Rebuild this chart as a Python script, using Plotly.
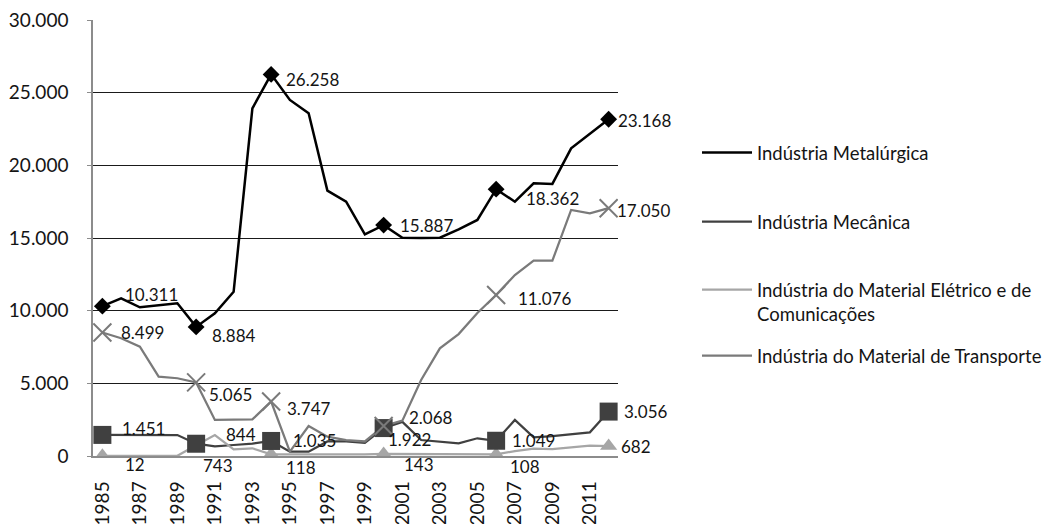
import plotly.graph_objects as go

# ---------------- data ----------------
years = list(range(1985, 2013))

metalurgica = [10311, 10850, 10230, 10370, 10505, 8884, 9820, 11300, 23920, 26258,
               24500, 23580, 18260, 17500, 15250, 15887, 15020, 15000, 15020, 15600,
               16240, 18362, 17500, 18760, 18720, 21170, 22180, 23168]

mecanica = [1451, 1445, 1440, 1440, 1440, 844, 665, 757, 850, 1035,
            300, 300, 1000, 1000, 900, 1922, 2350, 1100, 1000, 870,
            1220, 1049, 2480, 1290, 1375, 1490, 1630, 3056]

eletrico = [12, 12, 12, 12, 12, 743, 1445, 460, 530, 118,
            110, 110, 110, 115, 120, 143, 130, 120, 115, 110,
            110, 108, 340, 515, 480, 585, 720, 682]

transporte = [8499, 8100, 7520, 5460, 5350, 5065, 2480, 2490, 2520, 3747,
              300, 2060, 1330, 1100, 1000, 2068, 2430, 5230, 7410, 8390,
              9840, 11076, 12450, 13440, 13440, 16930, 16700, 17050]

marker_years = [1985, 1990, 1994, 2000, 2006, 2012]

series_names = [
    "Indústria Metalúrgica",
    "Indústria Mecânica",
    "Indústria do Material Elétrico e de<br>Comunicações",
    "Indústria do Material de Transporte",
]

tick_years = list(range(1985, 2012, 2))
y_ticks = [0, 5000, 10000, 15000, 20000, 25000, 30000]

# ---------------- styles ----------------
FONT = "Lato"
TXT = "#141414"
colors = ["#000000", "#404040", "#a6a6a6", "#7a7a7a"]
widths = [2.5, 2.25, 2.25, 2.25]
symbols = ["diamond", "square", "triangle-up", "x-thin"]
msizes = [13, 18, 15, 18]

# label offsets in pixels (dx right, dy down) for each marked point
label_offsets = [
    [(21, -12), (14, 9), (13, 5), (14, 0), (28, 9), (7, 1)],     # metalúrgica
    [(18, -6), (28, -9), (20, 0), (2, 11), (14, 0), (13, 0)],    # mecânica
    [(21, 9), (5, 20), (13, 13), (18, 11), (12, 12), (10, 0)],   # elétrico
    [(17, 0), (11, 12), (14, 7), (23, -8), (20, 3), (6, 2)],     # transporte
]

all_series = [metalurgica, mecanica, eletrico, transporte]


def fmt(v):
    return f"{v:,}".replace(",", ".")


fig = go.Figure()

legend_ids = ["legend", "legend2", "legend3", "legend4"]

# lines (in legend)
for i, (name, vals) in enumerate(zip(series_names, all_series)):
    fig.add_trace(go.Scatter(
        x=years, y=vals, mode="lines", name=name,
        line=dict(color=colors[i], width=widths[i]),
        legend=legend_ids[i], hoverinfo="skip",
    ))

# markers: draw order elétrico, mecânica, transporte, metalúrgica
for i in [2, 1, 3, 0]:
    vals = all_series[i]
    my = [vals[years.index(yr)] for yr in marker_years]
    if symbols[i] == "x-thin":
        marker = dict(symbol="x-thin", size=msizes[i],
                      line=dict(color=colors[i], width=2), color=colors[i])
    else:
        marker = dict(symbol=symbols[i], size=msizes[i], color=colors[i],
                      line=dict(width=0))
    fig.add_trace(go.Scatter(
        x=marker_years, y=my, mode="markers", marker=marker,
        showlegend=False, hoverinfo="skip",
    ))

# data labels
annotations = []
for i, vals in enumerate(all_series):
    for j, yr in enumerate(marker_years):
        v = vals[years.index(yr)]
        dx, dy = label_offsets[i][j]
        annotations.append(dict(
            x=yr, y=v, xref="x", yref="y", text=fmt(v), showarrow=False,
            xanchor="left", yanchor="middle", xshift=dx, yshift=-dy,
            font=dict(family=FONT, size=17, color=TXT),
        ))

L, R, T, B = 93, 441, 20, 68
W, H = 1059, 524
pw = W - L - R
ph = H - T - B


def px_x(x):
    return (x - L) / pw


def px_y(y):
    return 1 - (y - T) / ph


leg_common = dict(
    bgcolor="rgba(0,0,0,0)", borderwidth=0, itemwidth=50,
    font=dict(family=FONT, size=18.5, color=TXT), xanchor="left",
    yanchor="middle", valign="top", itemclick=False, itemdoubleclick=False,
)
leg_x = px_x(697)

fig.update_layout(
    width=W, height=H, autosize=False,
    margin=dict(l=L, r=R, t=T, b=B, pad=0),
    paper_bgcolor="white", plot_bgcolor="white",
    separators=",.",
    font=dict(family=FONT, size=19, color=TXT),
    showlegend=True,
    legend=dict(**leg_common, x=leg_x, y=px_y(153)),
    legend2=dict(**leg_common, x=leg_x, y=px_y(222)),
    legend3=dict(**leg_common, x=leg_x, y=px_y(302)),
    legend4=dict(**leg_common, x=leg_x, y=px_y(356)),
    annotations=annotations,
    xaxis=dict(
        range=[1984.5, 2012.5], tickvals=tick_years,
        ticktext=[str(y) for y in tick_years], tickangle=-90,
        showgrid=False, zeroline=False, showline=True,
        linecolor="#8c8c8c", linewidth=1.5, ticks="",
        ticklabelstandoff=16, automargin=False,
        tickfont=dict(family=FONT, size=19, color=TXT),
    ),
    yaxis=dict(
        range=[0, 30000], tickvals=y_ticks, tickformat=",d",
        showgrid=True, gridcolor="#1a1a1a", gridwidth=1,
        zeroline=False, showline=True, linecolor="#8c8c8c", linewidth=1.5,
        ticks="outside", ticklen=4, tickcolor="#8c8c8c",
        ticklabelstandoff=15, automargin=False,
        tickfont=dict(family=FONT, size=19, color=TXT),
    ),
)

fig.write_html(
    "out.html",
    config={"displayModeBar": False},
    post_script="document.body.style.margin='0';document.body.style.padding='0';",
)
